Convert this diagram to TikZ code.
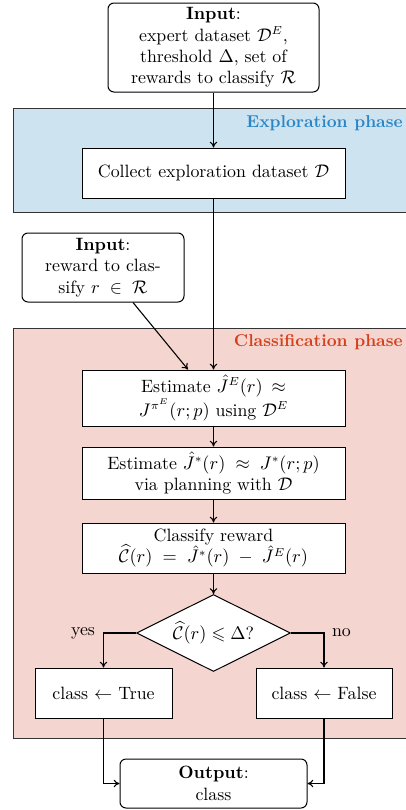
\documentclass[tikz,border=0pt]{standalone}
\usepackage{amsmath,amssymb}
\usetikzlibrary{shapes.geometric,arrows.meta}
\definecolor{blueregion}{HTML}{CDE3F0}
\definecolor{pinkregion}{HTML}{F4D5CF}
\definecolor{bluetext}{HTML}{2A86C5}
\definecolor{redtext}{HTML}{D5401C}
\newcommand{\myfontsz}{\fontsize{10.7pt}{12.8pt}\selectfont}
\newcommand{\myphasesz}{\fontsize{10.3pt}{12.4pt}\selectfont}
\tikzset{
  region/.style={draw=black!80, line width=0.55pt},
  stepbox/.style={draw, fill=white, line width=0.6pt, align=center, inner sep=1pt, minimum width=157.8pt},
  roundbox/.style={draw, fill=white, rounded corners=3.6pt, line width=0.6pt, align=center, inner sep=1pt},
  decision/.style={draw, fill=white, shape=diamond, aspect=2, inner sep=0pt, line width=0.6pt, minimum width=92.4pt, minimum height=46.2pt},
  flow/.style={-{To[length=3.5pt,width=4.6pt]}, line width=0.65pt},
  phase/.style={font=\myphasesz\bfseries, anchor=east, inner sep=0pt}
}
\begin{document}
\begin{tikzpicture}[x=0.6pt,y=-0.6pt, every node/.style={font=\myfontsz}]
\useasboundingbox (0,0) rectangle (406,810);
% regions
\fill[blueregion] (13,108) rectangle (430,212);
\draw[region] (430,108) -- (13,108) -- (13,212) -- (430,212);
\fill[pinkregion] (13,328) rectangle (430,738);
\draw[region] (430,328) -- (13,328) -- (13,738) -- (430,738);
\node[phase, text=bluetext] (lblexp) at (403,123) {Exploration phase};
\node[phase, text=redtext] (lblcls) at (403,342) {Classification phase};
% nodes
\node[roundbox, minimum width=126.6pt, minimum height=53.4pt] (in1) at (213.5,47.5)
  {\textbf{Input}:\\ expert dataset $\mathcal{D}^E$,\\ threshold $\Delta$, set of\\ rewards to classify $\mathcal{R}$};
\node[stepbox, minimum height=30pt] (collect) at (213.5,173) {Collect exploration dataset $\mathcal{D}$};
\node[roundbox, minimum width=97.2pt, minimum height=41.4pt] (in2) at (103,267.5)
  {\textbf{Input}:\\ reward to clas-\\ sify $r \;\in\; \mathcal{R}$};
\node[stepbox, minimum height=33.6pt] (est1) at (213.5,398)
  {Estimate $\hat{J}^E(r)$\enspace$\approx$\\ $J^{\pi^E}(r;p)$ using $\mathcal{D}^E$};
\node[stepbox, minimum height=31.2pt] (est2) at (213.5,473)
  {Estimate $\hat{J}^*(r) \;\approx\; J^*(r;p)$\\ via planning with $\mathcal{D}$};
\node[stepbox, minimum height=30pt] (cls) at (213.5,548)
  {Classify reward\\ $\widehat{\mathcal{C}}(r) \;=\; \hat{J}^*(r) \;-\; \hat{J}^E(r)$};
\node[decision] (dec) at (213.5,633) {$\widehat{\mathcal{C}}(r) \leqslant \Delta$?};
\node[stepbox, minimum width=82.2pt, minimum height=30pt] (tru) at (103.5,693) {class $\leftarrow$ True};
\node[stepbox, minimum width=81.6pt, minimum height=30pt] (fal) at (324,693) {class $\leftarrow$ False};
\node[roundbox, minimum width=112.2pt, minimum height=29.4pt] (out) at (213.5,783.5)
  {\textbf{Output}:\\ class};
\node[anchor=east, inner sep=1pt] (yes) at (97,633) {yes};
\node[anchor=west, inner sep=1pt] (no) at (330,633) {no};
% connectors
\draw[flow] (in1) -- (collect);
\draw[flow] (collect) -- (est1);
\draw[flow] (in2.south -| 133,0) -- (est1.north -| 188,0);
\draw[flow] (est1) -- (est2);
\draw[flow] (est2) -- (cls);
\draw[flow] (cls) -- (dec);
\draw[flow] (dec.west) -| (tru.north);
\draw[flow] (dec.east) -| (fal.north);
\draw[flow] (tru.south) |- (out.west);
\draw[flow] (fal.south) |- (out.east);
\end{tikzpicture}
\end{document}
